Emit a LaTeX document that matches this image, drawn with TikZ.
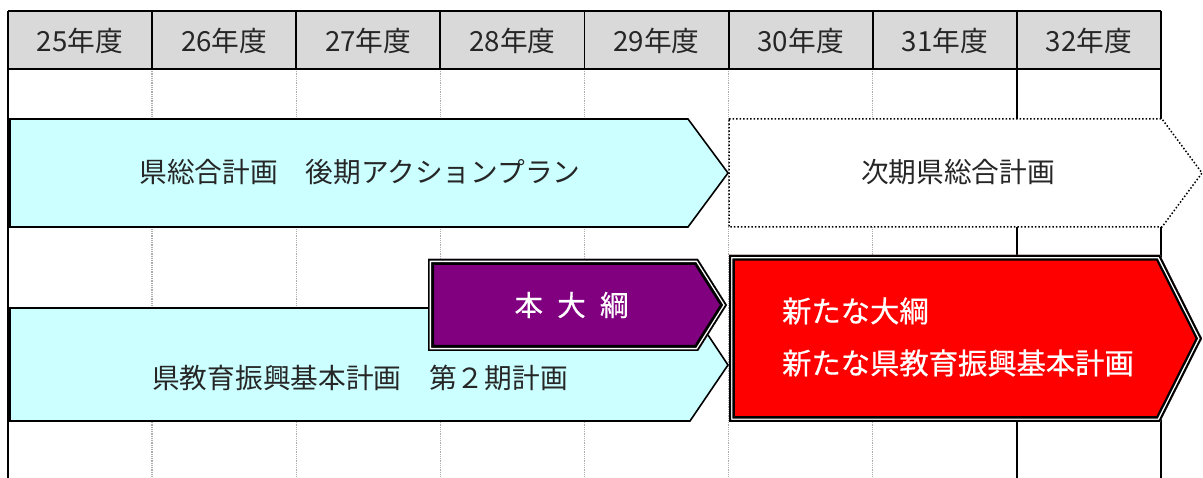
\documentclass[tikz,border=0pt]{standalone}
\usepackage{fontspec}
\newfontfamily\jp{Noto Sans CJK JP}
\newfontfamily\jpw[FakeBold=0.6]{Noto Sans CJK JP}
\definecolor{cyanfill}{HTML}{CCFFFF}
\definecolor{hdrfill}{HTML}{D9D9D9}
\definecolor{purp}{HTML}{800080}
\definecolor{redf}{HTML}{FF0000}
\tikzset{
  gridgray/.style={draw=gray!65, line width=1.3, dash pattern=on 1pt off 0.8pt},
  gridsolid/.style={draw=black, line width=1.8},
  hdrline/.style={draw=black, line width=1.8},
  cyanarrow/.style={fill=cyanfill, draw=black, line width=1.6, line join=miter},
  dotarrow/.style={fill=white, draw=black, line width=1.5, dash pattern=on 1.5pt off 2pt},
  mintext/.style={inner sep=0pt, font=\jp\fontsize{27.7}{32}\selectfont, text=black!85},
  whitetext/.style={inner sep=0pt, font=\jpw\fontsize{29.3}{34}\selectfont, text=white},
}
\def\purppath{(428,259) -- (698,259) -- (727,305) -- (698,351) -- (428,351) -- cycle}
\def\redpath{(729,255) -- (1160,255) -- (1202,338.5) -- (1160,422) -- (729,422) -- cycle}
\begin{document}
\begin{tikzpicture}[x=1pt,y=-1pt]
\useasboundingbox (0,0) rectangle (1203,478);
% header
\fill[hdrfill] (8,11) rectangle (1161,69);
% grid lines below header
\foreach \i in {1,...,6} {
  \draw[gridgray] ({8+144.125*\i},69) -- ({8+144.125*\i},478);
}
\draw[gridsolid] (1016.9,69) -- (1016.9,478);
\draw[gridsolid] (1161,69) -- (1161,478);
\draw[gridsolid] (8,69) -- (8,478);
% header frame
\draw[hdrline] (8,11) -- (1161,11);
\draw[hdrline] (8,69) -- (1161,69);
\foreach \i in {0,...,8} {
  \draw[hdrline] ({8+144.125*\i},11) -- ({8+144.125*\i},69);
}
\foreach \i in {0,...,7} {
  \pgfmathtruncatemacro\yr{25+\i}
  \node[mintext] (h\i) at ({8+144.125*(\i+0.5)},40.5) {\yr 年度};
}
% row 1
\draw[cyanarrow] (10,119) -- (688,119) -- (728,173) -- (688,227) -- (10,227) -- cycle;
\node[mintext] (plan1) at (360,172) {県総合計画　後期アクションプラン};
\draw[dotarrow] (729,119) -- (1162,119) -- (1202,173) -- (1162,227) -- (729,227) -- cycle;
\node[mintext] (plan1next) at (958,172) {次期県総合計画};
% row 2 cyan
\draw[cyanarrow] (10,308) -- (690,308) -- (728,365) -- (690,421) -- (10,421) -- cycle;
\node[mintext] (plan2) at (360,378) {県教育振興基本計画　第２期計画};
% purple box
\begin{scope}
  \clip \purppath;
  \fill[purp] \purppath;
  \draw[black, line width=12] \purppath;
  \draw[white, line width=6.2] \purppath;
  \draw[black, line width=3.4] \purppath;
\end{scope}
\node[whitetext, font=\jpw\fontsize{28.5}{32}\selectfont] (taiko) at (571.5,305) {本\hspace{0.5em}大\hspace{0.5em}綱};
% red box
\begin{scope}
  \clip \redpath;
  \fill[redf] \redpath;
  \draw[black, line width=11.5] \redpath;
  \draw[white, line width=6.8] \redpath;
  \draw[black, line width=4] \redpath;
\end{scope}
\node[whitetext, anchor=west] (new1) at (782,311) {新たな大綱};
\node[whitetext, anchor=west] (new2) at (782,363) {新たな県教育振興基本計画};
\end{tikzpicture}
\end{document}
